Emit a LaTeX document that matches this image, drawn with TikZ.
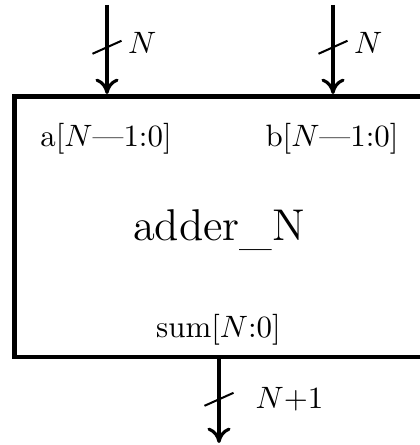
\documentclass[tikz,border=0pt]{standalone}
\usepackage{tikz}
\usetikzlibrary{arrows.meta,calc,positioning}
\tikzset{
    % Block outline - heavy black frame
    block/.style={
        draw=black,
        line width=1.6pt,
        minimum width=132.35pt,
        minimum height=84.3pt,
        inner sep=0pt,
    },
    % Block name - larger serif text
    block title/.style={
        font=\Large,
        anchor=base,
        inner sep=0pt,
    },
    % Port names inside the block
    port label/.style={
        anchor=base,
        inner sep=0pt,
    },
    % Bus wire with arrow
    bus/.style={
        -{Computer Modern Rightarrow[length=5pt,width=7.5pt]},
        line width=1pt,
    },
    % Slash marking the bus width
    bus slash/.style={
        line width=0.65pt,
    },
    % Bus width label
    width label/.style={
        anchor=base west,
        inner sep=0pt,
    },
}

\begin{document}
\begin{tikzpicture}[x=0.3236pt, y=0.3236pt]
    \useasboundingbox (0,0) rectangle (419,445);

    \node (adder) [block] at (219,218.25) {};
    \node (title) [block title] at (219,204) {adder\raisebox{-1pt}{\_}N};
    \node (porta) [port label] at (106,298) {a[$N$\textemdash1:0]};
    \node (portb) [port label] at (332,298) {b[$N$\textemdash1:0]};
    \node (portsum) [port label] at (218.5,107) {sum[$N$:0]};

    \coordinate (ina) at (107,440);
    \coordinate (inb) at (333,440);
    \coordinate (outsum) at (219,2);

    % input buses
    \draw [bus] (ina) -- coordinate[pos=.475] (sa) (ina |- adder.north);
    \draw [bus] (inb) -- coordinate[pos=.475] (sb) (inb |- adder.north);
    % output bus
    \draw [bus] (outsum |- adder.south) -- coordinate[pos=.477] (ssum) (outsum);

    \draw [bus slash] ($(sa)+(-14.5,-6.5)$) -- ($(sa)+(14.5,6.5)$);
    \draw [bus slash] ($(sb)+(-14.5,-6.5)$) -- ($(sb)+(14.5,6.5)$);
    \draw [bus slash] ($(ssum)+(-14.5,-6.5)$) -- ($(ssum)+(14.5,6.5)$);

    \node (wa) [width label] at ($(sa)+(20.5,-6.5)$) {$N$};
    \node (wb) [width label] at ($(sb)+(20.5,-6.5)$) {$N$};
    \node (wsum) [width label] at ($(ssum)+(36,-9)$) {$N$+1};
\end{tikzpicture}
\end{document}
